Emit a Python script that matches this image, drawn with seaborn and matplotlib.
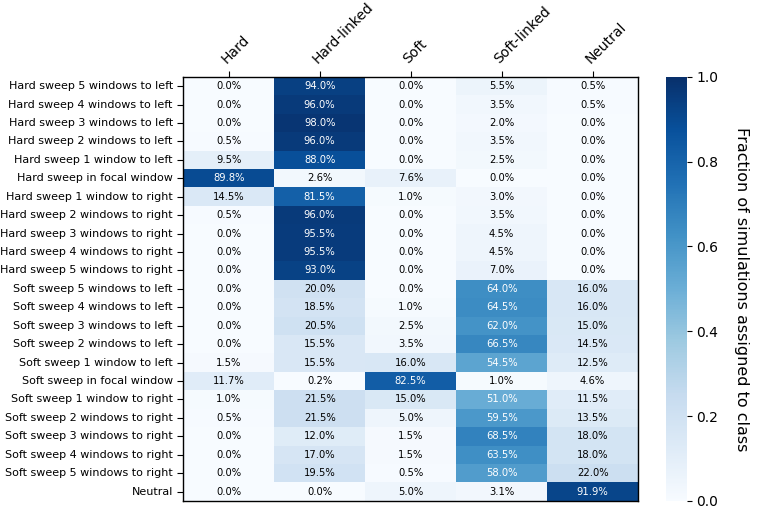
import matplotlib
matplotlib.use('Agg')
import numpy as np
import matplotlib.pyplot as plt
import seaborn as sns
import pandas as pd

classes = ['Hard', 'Hard-linked', 'Soft', 'Soft-linked', 'Neutral']
rows = ['Hard sweep 5 windows to left', 'Hard sweep 4 windows to left',
        'Hard sweep 3 windows to left', 'Hard sweep 2 windows to left',
        'Hard sweep 1 window to left', 'Hard sweep in focal window',
        'Hard sweep 1 window to right', 'Hard sweep 2 windows to right',
        'Hard sweep 3 windows to right', 'Hard sweep 4 windows to right',
        'Hard sweep 5 windows to right',
        'Soft sweep 5 windows to left', 'Soft sweep 4 windows to left',
        'Soft sweep 3 windows to left', 'Soft sweep 2 windows to left',
        'Soft sweep 1 window to left', 'Soft sweep in focal window',
        'Soft sweep 1 window to right', 'Soft sweep 2 windows to right',
        'Soft sweep 3 windows to right', 'Soft sweep 4 windows to right',
        'Soft sweep 5 windows to right', 'Neutral']

# percent assigned to each class (columns: Hard, Hard-linked, Soft, Soft-linked, Neutral)
hard = [0.0, 0.0, 0.0, 0.5, 9.5, 89.8, 14.5, 0.5, 0.0, 0.0, 0.0,
        0.0, 0.0, 0.0, 0.0, 1.5, 11.7, 1.0, 0.5, 0.0, 0.0, 0.0, 0.0]
hard_linked = [94.0, 96.0, 98.0, 96.0, 88.0, 2.6, 81.5, 96.0, 95.5, 95.5, 93.0,
               20.0, 18.5, 20.5, 15.5, 15.5, 0.2, 21.5, 21.5, 12.0, 17.0, 19.5, 0.0]
soft = [0.0, 0.0, 0.0, 0.0, 0.0, 7.6, 1.0, 0.0, 0.0, 0.0, 0.0,
        0.0, 1.0, 2.5, 3.5, 16.0, 82.5, 15.0, 5.0, 1.5, 1.5, 0.5, 5.0]
soft_linked = [5.5, 3.5, 2.0, 3.5, 2.5, 0.0, 3.0, 3.5, 4.5, 4.5, 7.0,
               64.0, 64.5, 62.0, 66.5, 54.5, 1.0, 51.0, 59.5, 68.5, 63.5, 58.0, 3.1]
neutral = [0.5, 0.5, 0.0, 0.0, 0.0, 0.0, 0.0, 0.0, 0.0, 0.0, 0.0,
           16.0, 16.0, 15.0, 14.5, 12.5, 4.6, 11.5, 13.5, 18.0, 18.0, 22.0, 91.9]

df = pd.DataFrame({'Hard': hard, 'Hard-linked': hard_linked, 'Soft': soft,
                   'Soft-linked': soft_linked, 'Neutral': neutral}, index=rows) / 100.0
labels = df.map(lambda v: '%.1f%%' % (v * 100)).values

fig = plt.figure(figsize=(7.57, 5.09), dpi=100)
ax = fig.add_axes([0.242, 0.016, 0.601, 0.833])
cax = fig.add_axes([0.880, 0.016, 0.027, 0.833])

sns.heatmap(df, ax=ax, cbar_ax=cax, cmap='Blues', vmin=0, vmax=1,
            annot=labels, fmt='', annot_kws={'fontsize': 7.2})

# white text on dark cells
for t, v in zip(ax.texts, df.values.flatten()):
    t.set_color('white' if v > 0.5 else 'black')

ax.xaxis.tick_top()
ax.set_xticklabels(classes, rotation=45, ha='left', rotation_mode='anchor', fontsize=10)
ax.set_yticklabels(rows, rotation=0, fontsize=8)
ax.tick_params(axis='both', length=4, width=0.8)
for s in ax.spines.values():
    s.set_visible(True)
    s.set_linewidth(1.0)

cb = ax.collections[0].colorbar
cb.set_ticks([0.0, 0.2, 0.4, 0.6, 0.8, 1.0])
cb.ax.tick_params(labelsize=10)
cb.outline.set_visible(True)
cb.set_label('Fraction of simulations assigned to class', rotation=270, labelpad=22, fontsize=11.5)

plt.savefig('out.png', dpi=100)
